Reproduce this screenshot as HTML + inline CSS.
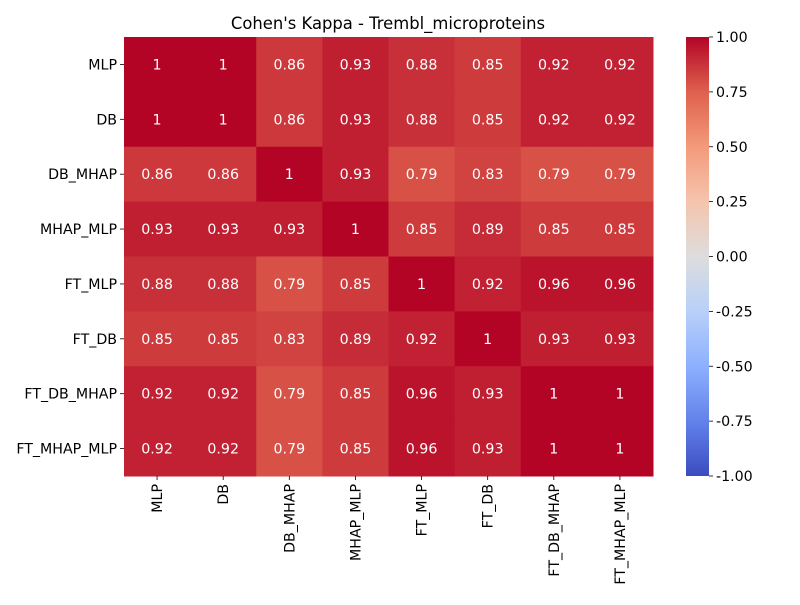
<!DOCTYPE html>
<html><head><meta charset="utf-8"><style>
body{margin:0;background:#fff;}
svg text{font-family:"DejaVu Sans","Liberation Sans",sans-serif;}
</style></head><body>
<svg id="chart" width="800" height="600" xmlns="http://www.w3.org/2000/svg">
<rect width="800" height="600" fill="#fff"/>
<text x="388" y="29" text-anchor="middle" font-size="16.4" fill="#000">Cohen's Kappa - Trembl_microproteins</text>
<defs><linearGradient id="cw" x1="0" y1="1" x2="0" y2="0">
<stop offset="0" stop-color="rgb(59,76,192)"/><stop offset="0.125" stop-color="rgb(98,130,234)"/>
<stop offset="0.25" stop-color="rgb(141,176,254)"/><stop offset="0.375" stop-color="rgb(184,208,249)"/>
<stop offset="0.5" stop-color="rgb(221,221,221)"/><stop offset="0.625" stop-color="rgb(245,196,173)"/>
<stop offset="0.75" stop-color="rgb(244,154,123)"/><stop offset="0.875" stop-color="rgb(222,96,77)"/>
<stop offset="1" stop-color="rgb(180,4,38)"/></linearGradient></defs>
<g id="cells"></g>
<rect x="686" y="37" width="23" height="439" fill="url(#cw)"/>
<g id="cbticks"></g>
</svg>
<script>
const labels=["MLP","DB","DB_MHAP","MHAP_MLP","FT_MLP","FT_DB","FT_DB_MHAP","FT_MHAP_MLP"];
const row0=[1,1,0.86,0.93,0.88,0.85,0.92,0.92];
const row1=[1,1,0.86,0.93,0.88,0.85,0.92,0.92];
const row2=[0.86,0.86,1,0.93,0.79,0.83,0.79,0.79];
const row3=[0.93,0.93,0.93,1,0.85,0.89,0.85,0.85];
const row4=[0.88,0.88,0.79,0.85,1,0.92,0.96,0.96];
const row5=[0.85,0.85,0.83,0.89,0.92,1,0.93,0.93];
const row6=[0.92,0.92,0.79,0.85,0.96,0.93,1,1];
const row7=[0.92,0.92,0.79,0.85,0.96,0.93,1,1];
const cbTicks=[1,0.75,0.5,0.25,0,-0.25,-0.5,-0.75,-1];
const matrix=[row0,row1,row2,row3,row4,row5,row6,row7];
const NS="http://www.w3.org/2000/svg";
const X0=124,X1=653,Y0=37,Y1=476,vmin=-1,vmax=1;
const n=labels.length,cw=(X1-X0)/n,ch=(Y1-Y0)/n;
const stops=[[59,76,192],[98,130,234],[141,176,254],[184,208,249],[221,221,221],[245,196,173],[244,154,123],[222,96,77],[180,4,38]];
function color(v){let t=(v-vmin)/(vmax-vmin);t=Math.max(0,Math.min(1,t))*8;let i=Math.min(7,Math.floor(t)),f=t-i;
const a=stops[i],b=stops[i+1];return `rgb(${a.map((c,k)=>Math.round(c+(b[k]-c)*f)).join(",")})`;}
function el(t,attrs,txt){const e=document.createElementNS(NS,t);for(const k in attrs)e.setAttribute(k,attrs[k]);if(txt!==undefined)e.textContent=txt;return e;}
const g=document.getElementById("cells"),svg=document.getElementById("chart");
const FS="14.2";
matrix.forEach((row,r)=>{row.forEach((v,c)=>{
 const rc=el("rect",{x:X0+c*cw,y:Y0+r*ch,width:cw+0.5,height:ch+0.5,fill:color(v)});
 
 
 g.appendChild(rc);
 const tx=el("text",{x:X0+(c+0.5)*cw,y:Y0+(r+0.5)*ch+5,"text-anchor":"middle","font-size":FS,fill:"#fff"},String(v));
 
 
 g.appendChild(tx);
});});
labels.forEach((l,i)=>{
 const y=Y0+(i+0.5)*ch;
 svg.appendChild(el("line",{x1:X0-4,x2:X0,y1:y,y2:y,stroke:"#000","stroke-width":0.8}));
 const t=el("text",{x:X0-7,y:y+5,"text-anchor":"end","font-size":FS,fill:"#000"},l);
 
 
 svg.appendChild(t);
 const x=X0+(i+0.5)*cw;
 svg.appendChild(el("line",{x1:x,x2:x,y1:Y1,y2:Y1+4,stroke:"#000","stroke-width":0.8}));
 const t2=el("text",{x:x+5,y:Y1+8,"text-anchor":"end","font-size":FS,fill:"#000",transform:`rotate(-90 ${x+5} ${Y1+8})`},l);
 
 
 svg.appendChild(t2);
});
const cb=document.getElementById("cbticks");
cbTicks.forEach(v=>{
 const y=Y1-(v-vmin)/(vmax-vmin)*(Y1-Y0);
 cb.appendChild(el("line",{x1:709,x2:713,y1:y,y2:y,stroke:"#000","stroke-width":0.8}));
 const t=el("text",{x:716,y:y+5,"font-size":FS,fill:"#000"},v.toFixed(2));
 
 
 cb.appendChild(t);
});
</script>
</body></html>
